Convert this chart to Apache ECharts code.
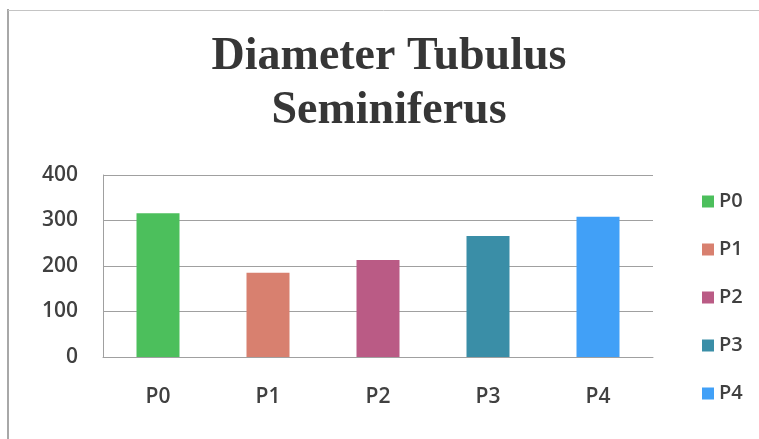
<!DOCTYPE html>
<html>
<head>
<meta charset="utf-8">
<script src="https://cdn.jsdelivr.net/npm/echarts@6/dist/echarts.min.js"></script>
<style>
  html, body { margin: 0; padding: 0; background: #fff; }
  #main { width: 759px; height: 439px; }
</style>
</head>
<body>
<div id="main"></div>
<script>
// 数据
var categories = ['P0', 'P1', 'P2', 'P3', 'P4'];
var values = [316, 185, 213, 266, 308];
var barColors = ['#4cbf5c', '#d8806f', '#ba5b85', '#3a8ea7', '#41a0f7'];
var yTicks = [0, 100, 200, 300, 400];

var chart = echarts.init(document.getElementById('main'));

// 每个类别一个系列，这样图例能显示 P0..P4
var seriesList = categories.map(function (name, i) {
    return {
        name: name,
        type: 'bar',
        stack: 'all',
        barWidth: 43,
        itemStyle: { color: barColors[i] },
        data: categories.map(function (c, j) { return j === i ? values[i] : '-'; })
    };
});

var option = {
    backgroundColor: '#fff',
    animation: false,
    title: {
        text: 'Diameter Tubulus\nSeminiferus',
        left: 389,
        top: 30,
        textAlign: 'center',
        padding: 0,
        textStyle: {
            fontFamily: 'Liberation Serif',
            fontWeight: 'bold',
            fontSize: 46,
            lineHeight: 54,
            color: '#363636'
        }
    },
    legend: {
        orient: 'vertical',
        left: 697,
        top: 186,
        itemWidth: 12,
        itemHeight: 12,
        itemGap: 27,
        icon: 'rect',
        data: categories,
        textStyle: { fontFamily: 'Open Sans', fontWeight: 600, fontSize: 20, lineHeight: 21, color: '#404040' }
    },
    grid: { left: 103, right: 106, top: 175, bottom: 82 },
    xAxis: {
        type: 'category',
        data: categories,
        axisTick: { show: false },
        axisLine: { lineStyle: { color: '#a0a0a0', width: 1 } },
        axisLabel: { margin: 30, fontFamily: 'Open Sans', fontWeight: 600, fontSize: 21, color: '#404040' }
    },
    yAxis: {
        type: 'value',
        min: yTicks[0],
        max: yTicks[yTicks.length - 1],
        interval: 100,
        axisLine: { show: true, lineStyle: { color: '#a0a0a0', width: 1 } },
        axisTick: { show: false },
        splitLine: { lineStyle: { color: '#a0a0a0', width: 1 } },
        axisLabel: { margin: 25, fontFamily: 'Open Sans', fontWeight: 600, fontSize: 21, color: '#404040' }
    },
    // 外框
    graphic: [
        { type: 'line', shape: { x1: 8, y1: 9, x2: 8, y2: 439 }, style: { stroke: '#a8a8a8', lineWidth: 2 } },
        { type: 'line', shape: { x1: 8, y1: 10.5, x2: 759, y2: 10.5 }, style: { stroke: '#c4c4c4', lineWidth: 1 } }
    ],
    series: seriesList
};
chart.setOption(option);
</script>
</body>
</html>
